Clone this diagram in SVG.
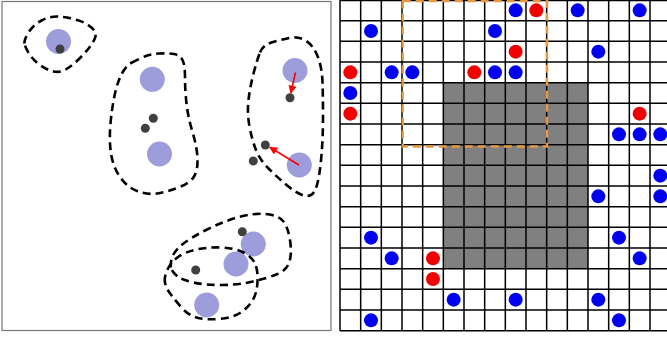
<svg xmlns="http://www.w3.org/2000/svg" width="667" height="337" viewBox="0 0 667 337">
<style>
.blob{fill:none;stroke:#000;stroke-width:2.6;stroke-dasharray:8,5}
.cen{fill:#9d9ddb}
.pt{fill:#404040}
.arr{stroke:#f00;stroke-width:1.6;fill:none}
.gl{stroke:#000;stroke-width:1.5;fill:none}
.b{fill:#0000f0}
.r{fill:#f00000}
</style>
<defs>
<marker id="ah" viewBox="0 0 10 10" refX="9" refY="5" markerWidth="9" markerHeight="8" markerUnits="userSpaceOnUse" orient="auto">
<path d="M0,0 L10,5 L0,10 z" fill="#f00"/>
</marker>
</defs>
<rect width="667" height="337" fill="#fff"/>
<g id="left-panel">
<rect x="2" y="1.5" width="329" height="329" fill="#fff" stroke="#777" stroke-width="1.2"/>
<g id="centroids">
<circle class="cen" cx="58.5" cy="41.5" r="12.5"/>
<circle class="cen" cx="152.3" cy="79.3" r="12.5"/>
<circle class="cen" cx="159.5" cy="154" r="12.5"/>
<circle class="cen" cx="295" cy="70.5" r="12.5"/>
<circle class="cen" cx="299.3" cy="165" r="12.5"/>
<circle class="cen" cx="253.3" cy="244" r="12.5"/>
<circle class="cen" cx="236" cy="264" r="12.5"/>
<circle class="cen" cx="206.7" cy="305" r="12.5"/>
</g>
<g id="clusters">
<path id="cluster1" class="blob" d="M24.5,43.5 Q24,40 28.5,32.5 Q33,25 41.5,20.5 Q50,16 58.5,16.5 Q67,17 77,20 Q87,23 92,28 Q97,33 95,38 Q93,43 89,48 Q85,53 79,59 Q73,65 66.5,69 Q60,73 53.5,71.5 Q47,70 40,65 Q33,60 29,53.5 Q25,47 24.5,43.5 Z"/>
<path id="cluster2" class="blob" d="M132,62.5 Q137,60 143.5,57 Q150,54 159,53.5 Q168,53 174,54 Q180,55 182.5,60 Q185,65 185,77.5 Q185,90 186.5,103.5 Q188,117 192.5,132 Q197,147 197.5,158.5 Q198,170 194,176.5 Q190,183 178.5,187.5 Q167,192 157,193.5 Q147,195 137,191 Q127,187 120,177 Q113,167 111,153.5 Q109,140 110.5,123.5 Q112,107 115,93.5 Q118,80 122.5,72.5 Q127,65 132,62.5 Z"/>
<path id="cluster3" class="blob" d="M260,52.5 Q263,45 271.5,42.5 Q280,40 289,38 Q298,36 305.5,40.5 Q313,45 317.5,56 Q322,67 322.5,82 Q323,97 323,117 Q323,137 321.5,155 Q320,173 317.5,183 Q315,193 311,195 Q307,197 301,194.5 Q295,192 286,184.5 Q277,177 268.5,168.5 Q260,160 256,150 Q252,140 249.5,126.5 Q247,113 248.5,100 Q250,87 253.5,73.5 Q257,60 260,52.5 Z"/>
<path id="cluster4" class="blob" d="M171,267.5 Q170,263 172.5,256.5 Q175,250 183.5,243.5 Q192,237 207,229.5 Q222,222 237,217.5 Q252,213 265,214 Q278,215 283,221 Q288,227 290,240 Q292,253 289.5,261.5 Q287,270 277.5,274 Q268,278 253,281.5 Q238,285 221.5,285 Q205,285 193.5,282.5 Q182,280 177,276 Q172,272 171,267.5 Z"/>
<path id="cluster5" class="blob" d="M165,282.5 Q164,277 167.5,269.5 Q171,262 178,257 Q185,252 196.5,249.5 Q208,247 221.5,247.5 Q235,248 243.5,252.5 Q252,257 255,263.5 Q258,270 257.5,281.5 Q257,293 252.5,300.5 Q248,308 240,313 Q232,318 218.5,319 Q205,320 196.5,317.5 Q188,315 181.5,307.5 Q175,300 170.5,294 Q166,288 165,282.5 Z"/>
</g>
<g id="points">
<circle class="pt" cx="60" cy="49" r="4.5"/>
<circle class="pt" cx="153.3" cy="118.3" r="4.5"/>
<circle class="pt" cx="145.3" cy="128.3" r="4.5"/>
<circle class="pt" cx="290" cy="97.7" r="4.5"/>
<circle class="pt" cx="265.3" cy="145" r="4.5"/>
<circle class="pt" cx="253.3" cy="161" r="4.5"/>
<circle class="pt" cx="242.3" cy="231.7" r="4.5"/>
<circle class="pt" cx="195.7" cy="270" r="4.5"/>
</g>
<g id="connectors">
<line class="arr" x1="295.5" y1="72.5" x2="290.8" y2="93" marker-end="url(#ah)"/>
<line class="arr" x1="299" y1="165" x2="269.8" y2="147.3" marker-end="url(#ah)"/>
</g>
</g>
<g id="grid-panel">
<rect x="340" y="0" width="330.67" height="330.67" fill="#fff"/>
<rect id="gray-block" x="443.33" y="82.67" width="144.67" height="186" fill="#808080"/>
<path class="gl" d="M340,0V330.67 M360.67,0V330.67 M381.33,0V330.67 M402,0V330.67 M422.67,0V330.67 M443.33,0V330.67 M464,0V330.67 M484.67,0V330.67 M505.33,0V330.67 M526,0V330.67 M546.67,0V330.67 M567.33,0V330.67 M588,0V330.67 M608.67,0V330.67 M629.33,0V330.67 M650,0V330.67 M340,0.5H667 M340,20.67H667 M340,41.33H667 M340,62H667 M340,82.67H667 M340,103.33H667 M340,124H667 M340,144.67H667 M340,165.33H667 M340,186H667 M340,206.67H667 M340,227.33H667 M340,248H667 M340,268.67H667 M340,289.33H667 M340,310H667 M340,330.67H667"/>
<g id="blue-dots">
<circle class="b" cx="515.67" cy="10.33" r="7"/>
<circle class="b" cx="577.67" cy="10.33" r="7"/>
<circle class="b" cx="639.67" cy="10.33" r="7"/>
<circle class="b" cx="371" cy="31" r="7"/>
<circle class="b" cx="495" cy="31" r="7"/>
<circle class="b" cx="598.33" cy="51.67" r="7"/>
<circle class="b" cx="391.67" cy="72.33" r="7"/>
<circle class="b" cx="412.33" cy="72.33" r="7"/>
<circle class="b" cx="495" cy="72.33" r="7"/>
<circle class="b" cx="515.67" cy="72.33" r="7"/>
<circle class="b" cx="350.33" cy="93" r="7"/>
<circle class="b" cx="619" cy="134.33" r="7"/>
<circle class="b" cx="639.67" cy="134.33" r="7"/>
<circle class="b" cx="660.33" cy="134.33" r="7"/>
<circle class="b" cx="660.33" cy="175.67" r="7"/>
<circle class="b" cx="598.33" cy="196.33" r="7"/>
<circle class="b" cx="660.33" cy="196.33" r="7"/>
<circle class="b" cx="371" cy="237.67" r="7"/>
<circle class="b" cx="619" cy="237.67" r="7"/>
<circle class="b" cx="391.67" cy="258.33" r="7"/>
<circle class="b" cx="639.67" cy="258.33" r="7"/>
<circle class="b" cx="453.67" cy="299.67" r="7"/>
<circle class="b" cx="515.67" cy="299.67" r="7"/>
<circle class="b" cx="598.33" cy="299.67" r="7"/>
<circle class="b" cx="371" cy="320.33" r="7"/>
<circle class="b" cx="619" cy="320.33" r="7"/>
</g>
<g id="red-dots">
<circle class="r" cx="536.33" cy="10.33" r="7"/>
<circle class="r" cx="515.67" cy="51.67" r="7"/>
<circle class="r" cx="350.33" cy="72.33" r="7"/>
<circle class="r" cx="474.33" cy="72.33" r="7"/>
<circle class="r" cx="350.33" cy="113.67" r="7"/>
<circle class="r" cx="639.67" cy="113.67" r="7"/>
<circle class="r" cx="433" cy="258.33" r="7"/>
<circle class="r" cx="433" cy="279" r="7"/>
</g>
<rect id="window" x="402.7" y="1" width="144.3" height="145.5" fill="none" stroke="#e8983e" stroke-width="2.4" stroke-dasharray="8,5"/>
</g>
</svg>
